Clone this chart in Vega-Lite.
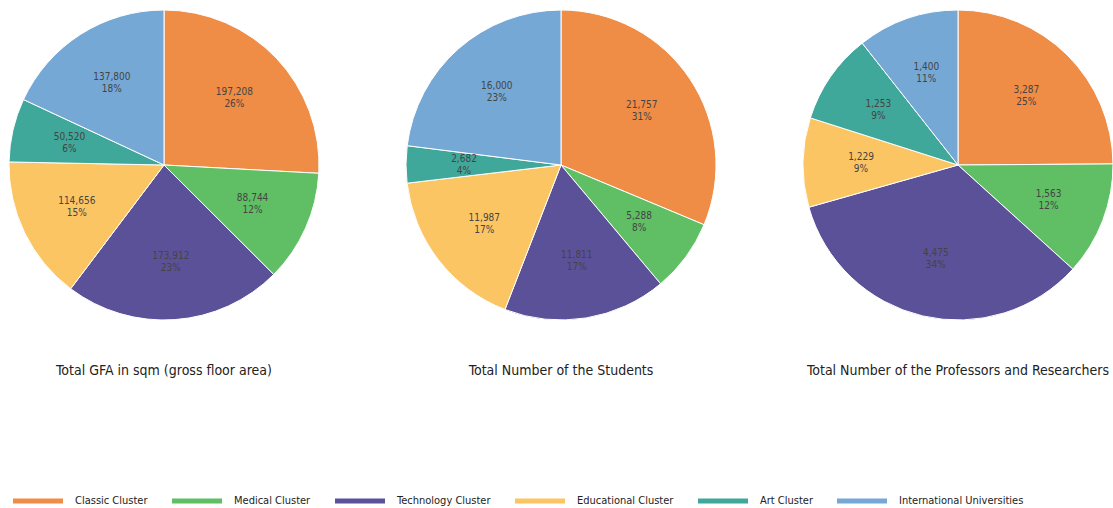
{
  "$schema": "https://vega.github.io/schema/vega-lite/v6.json",
  "background": "white",
  "padding": {"left": 4, "top": 8, "right": 0, "bottom": 0},
  "spacing": 77,
  "datasets": {
    "gfa": [
      {"idx": 1, "cluster": "Classic Cluster", "value": 197208, "pct": 0.26},
      {"idx": 2, "cluster": "Medical Cluster", "value": 88744, "pct": 0.12},
      {"idx": 3, "cluster": "Technology Cluster", "value": 173912, "pct": 0.23},
      {"idx": 4, "cluster": "Educational Cluster", "value": 114656, "pct": 0.15},
      {"idx": 5, "cluster": "Art Cluster", "value": 50520, "pct": 0.06},
      {"idx": 6, "cluster": "International Universities", "value": 137800, "pct": 0.18}
    ],
    "students": [
      {"idx": 1, "cluster": "Classic Cluster", "value": 21757, "pct": 0.31},
      {"idx": 2, "cluster": "Medical Cluster", "value": 5288, "pct": 0.08},
      {"idx": 3, "cluster": "Technology Cluster", "value": 11811, "pct": 0.17},
      {"idx": 4, "cluster": "Educational Cluster", "value": 11987, "pct": 0.17},
      {"idx": 5, "cluster": "Art Cluster", "value": 2682, "pct": 0.04},
      {"idx": 6, "cluster": "International Universities", "value": 16000, "pct": 0.23}
    ],
    "profs": [
      {"idx": 1, "cluster": "Classic Cluster", "value": 3287, "pct": 0.25},
      {"idx": 2, "cluster": "Medical Cluster", "value": 1563, "pct": 0.12},
      {"idx": 3, "cluster": "Technology Cluster", "value": 4475, "pct": 0.34},
      {"idx": 4, "cluster": "Educational Cluster", "value": 1229, "pct": 0.09},
      {"idx": 5, "cluster": "Art Cluster", "value": 1253, "pct": 0.09},
      {"idx": 6, "cluster": "International Universities", "value": 1400, "pct": 0.11}
    ]
  },
  "hconcat": [
    {
      "data": {"name": "gfa"},
      "width": 320, "height": 310,
      "title": {"text": "Total GFA in sqm (gross floor area)", "orient": "bottom", "anchor": "middle", "offset": 42},
      "encoding": {
        "theta": {"field": "value", "type": "quantitative", "stack": true},
        "order": {"field": "idx", "type": "quantitative"}
      },
      "layer": [
        {"mark": {"type": "arc", "radius": 155, "stroke": "white", "strokeWidth": 1},
         "encoding": {"color": {"field": "cluster", "type": "nominal",
           "scale": {"domain": ["Classic Cluster", "Medical Cluster", "Technology Cluster", "Educational Cluster", "Art Cluster", "International Universities"],
                     "range": ["#EF8C45", "#60BF65", "#5B5199", "#FCC563", "#40A89A", "#76A8D5"]},
           "legend": {"title": null, "encode": {"symbols": {"fill": {"value": {"expr": "scale('color', datum.value)"}}, "strokeWidth": {"value": 0}, "opacity": {"value": 1}, "fillOpacity": {"value": 1}}}}}}},
        {"mark": {"type": "text", "radius": 97, "dy": -6, "fontSize": 10, "font": "DejaVu Sans Condensed, DejaVu Sans", "fill": "#444"},
         "encoding": {"text": {"field": "value", "type": "quantitative", "format": ","}, "detail": {"field": "cluster"}}},
        {"mark": {"type": "text", "radius": 97, "dy": 6, "fontSize": 10, "font": "DejaVu Sans Condensed, DejaVu Sans", "fill": "#444"},
         "encoding": {"text": {"field": "pct", "type": "quantitative", "format": ".0%"}, "detail": {"field": "cluster"}}}
      ]
    },
    {
      "data": {"name": "students"},
      "width": 320, "height": 310,
      "title": {"text": "Total Number of the Students", "orient": "bottom", "anchor": "middle", "offset": 42},
      "encoding": {
        "theta": {"field": "value", "type": "quantitative", "stack": true},
        "order": {"field": "idx", "type": "quantitative"}
      },
      "layer": [
        {"mark": {"type": "arc", "radius": 155, "stroke": "white", "strokeWidth": 1},
         "encoding": {"color": {"field": "cluster", "type": "nominal",
           "legend": {"title": null, "encode": {"symbols": {"fill": {"value": {"expr": "scale('color', datum.value)"}}, "strokeWidth": {"value": 0}, "opacity": {"value": 1}, "fillOpacity": {"value": 1}}}}}}},
        {"mark": {"type": "text", "radius": 97, "dy": -6, "fontSize": 10, "font": "DejaVu Sans Condensed, DejaVu Sans", "fill": "#444"},
         "encoding": {"text": {"field": "value", "type": "quantitative", "format": ","}, "detail": {"field": "cluster"}}},
        {"mark": {"type": "text", "radius": 97, "dy": 6, "fontSize": 10, "font": "DejaVu Sans Condensed, DejaVu Sans", "fill": "#444"},
         "encoding": {"text": {"field": "pct", "type": "quantitative", "format": ".0%"}, "detail": {"field": "cluster"}}}
      ]
    },
    {
      "data": {"name": "profs"},
      "width": 320, "height": 310,
      "title": {"text": "Total Number of the Professors and Researchers", "orient": "bottom", "anchor": "middle", "offset": 42},
      "encoding": {
        "theta": {"field": "value", "type": "quantitative", "stack": true},
        "order": {"field": "idx", "type": "quantitative"}
      },
      "layer": [
        {"mark": {"type": "arc", "radius": 155, "stroke": "white", "strokeWidth": 1},
         "encoding": {"color": {"field": "cluster", "type": "nominal",
           "legend": {"title": null, "encode": {"symbols": {"fill": {"value": {"expr": "scale('color', datum.value)"}}, "strokeWidth": {"value": 0}, "opacity": {"value": 1}, "fillOpacity": {"value": 1}}}}}}},
        {"mark": {"type": "text", "radius": 97, "dy": -6, "fontSize": 10, "font": "DejaVu Sans Condensed, DejaVu Sans", "fill": "#444"},
         "encoding": {"text": {"field": "value", "type": "quantitative", "format": ","}, "detail": {"field": "cluster"}}},
        {"mark": {"type": "text", "radius": 97, "dy": 6, "fontSize": 10, "font": "DejaVu Sans Condensed, DejaVu Sans", "fill": "#444"},
         "encoding": {"text": {"field": "pct", "type": "quantitative", "format": ".0%"}, "detail": {"field": "cluster"}}}
      ]
    }
  ],
  "config": {
    "view": {"stroke": null},
    "title": {"font": "DejaVu Sans Condensed, DejaVu Sans", "fontSize": 14, "fontWeight": "normal", "color": "#222"},
    "legend": {"orient": "bottom", "direction": "horizontal", "offset": 89, "padding": 9,
      "symbolType": "M-1,-0.1H1V0.1H-1Z", "symbolSize": 2500, "symbolStrokeWidth": 0, "labelOffset": 12, "columnPadding": 24,
      "labelFont": "DejaVu Sans Condensed, DejaVu Sans", "labelFontSize": 11, "labelColor": "#222"}
  }
}
